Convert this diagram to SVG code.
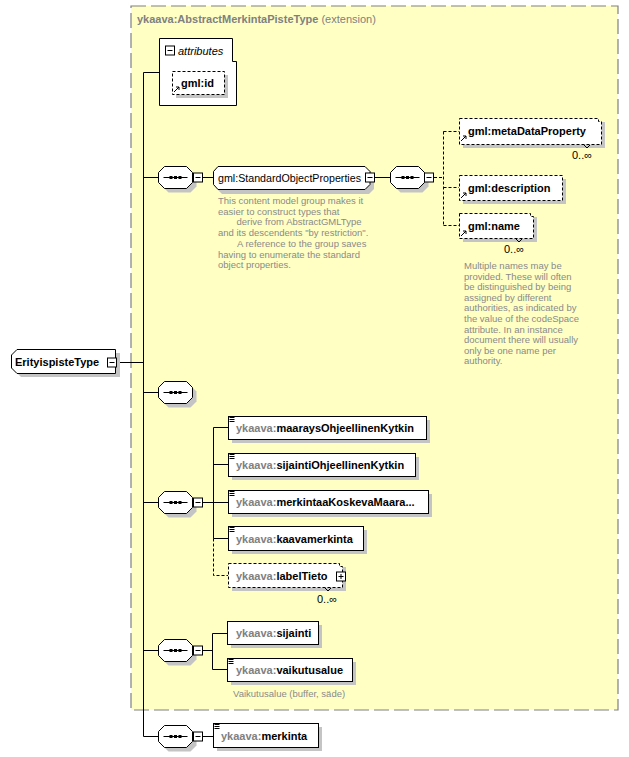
<svg xmlns="http://www.w3.org/2000/svg" xmlns:xlink="http://www.w3.org/1999/xlink" width="629" height="757" viewBox="0 0 629 757">
<style>
text{font-family:"Liberation Sans",Arial,sans-serif}
.lbl{font-size:11px;font-weight:bold;fill:#000}
.pre{fill:#808080}
.nm{font-size:11px;fill:#000}
.doc{font-size:9.5px;fill:#8a8a8a}
.occ{font-size:11px;fill:#000}
.box{fill:#fff;stroke:#000;stroke-width:1}
.dbox{fill:#fff;stroke:#000;stroke-width:1;stroke-dasharray:3,2}
.sh{fill:#c4c4c4}
.ln{stroke:#000;stroke-width:1;fill:none}
.dl{stroke:#000;stroke-width:1;fill:none;stroke-dasharray:3,2}
.ic{stroke:#000;stroke-width:1;fill:none}
</style>
<defs>
<g id="seq">
<path class="sh" d="M10,-7 H32 L38,-1 V9 L32,15 H10 L4,9 V-1 Z"/>
<path class="box" d="M6,-11 H28 L34,-5 V5 L28,11 H6 L0,5 V-5 Z"/>
<path class="ln" d="M5,0 H29"/>
<rect x="11" y="-1.5" width="3" height="3" fill="#000"/>
<rect x="15.5" y="-1.5" width="3" height="3" fill="#000"/>
<rect x="20" y="-1.5" width="3" height="3" fill="#000"/>
</g>
<g id="minus">
<rect class="box" x="0.5" y="-4" width="9" height="9"/>
<path class="ln" d="M2.5,0.5 H7.5"/>
</g>
<g id="plus">
<rect class="box" x="0.5" y="-4" width="9" height="9"/>
<path class="ln" d="M2.5,0.5 H7.5 M5,-2 V3"/>
</g>
<path id="doc3" class="ic" d="M0.5,0.5 H5.5 M0.5,2.5 H5.5 M0.5,4.5 H5.5"/>
<path id="refarrow" class="ic" d="M0,5 L5,0 M2,0 H5 V3"/>
</defs>

<!-- extension box -->
<g id="extension">
<rect x="131" y="6" width="487" height="704" fill="#FFFFC4" stroke="#808080" stroke-width="1.2" stroke-dasharray="15,5"/>
<text x="137" y="23" font-size="11px"><tspan font-weight="bold" fill="#808080">ykaava:AbstractMerkintaPisteType</tspan><tspan fill="#808080"> (extension)</tspan></text>
</g>

<!-- connectors -->
<g id="connectors">
<path class="ln" d="M116,362.5 H143.5 M143.5,72.5 V736.5 M143.5,72.5 H159 M143.5,177.5 H158 M143.5,392.5 H158 M143.5,502.5 H158 M143.5,650.5 H158 M143.5,736.5 H158"/>
<path class="ln" d="M203,177.5 H213 M375,177.5 H390"/>
<path class="dl" d="M434,177.5 H443.5 M443.5,131.5 V225.5 M443.5,131.5 H459 M443.5,187.5 H459 M443.5,225.5 H459"/>
<path class="ln" d="M203,502.5 H213.5 M213.5,427.5 V538.5 M213.5,427.5 H228 M213.5,464.5 H228 M213.5,502.5 H228 M213.5,538.5 H228"/>
<path class="dl" d="M213.5,538.5 V575.5 H228"/>
<path class="ln" d="M203,650.5 H212.5 M212.5,633.5 V669.5 M212.5,633.5 H227 M212.5,669.5 H227"/>
<path class="ln" d="M203,736.5 H213"/>
</g>

<!-- root -->
<g id="root">
<path class="sh" d="M21,353 H120 V377 H21 L15,371 V359 Z"/>
<path class="box" d="M17,349.5 H115.5 V373.5 H17 L11.5,368 V355 Z"/>
<text class="lbl" x="15" y="366">ErityispisteType</text>
<use xlink:href="#minus" x="107" y="362"/>
</g>

<!-- attributes -->
<g id="attributes">
<path class="box" d="M159.5,38.5 H232.5 V61.5 H236.5 V105.5 H159.5 Z"/>
<use xlink:href="#minus" x="165" y="50"/>
<text x="178" y="55" font-size="11px" font-style="italic" fill="#000">attributes</text>
</g>
<g id="gml-id">
<rect class="sh" x="176" y="75" width="52" height="23"/>
<rect class="dbox" x="172.5" y="71.5" width="52" height="23"/>
<text class="lbl" x="181" y="87">gml:id</text>
<use xlink:href="#refarrow" x="174" y="87"/>
</g>

<!-- sequence 1 -->
<g id="seq1">
<use xlink:href="#seq" x="158.5" y="177.5"/>
<use xlink:href="#minus" x="193" y="177"/>
</g>

<!-- StandardObjectProperties -->
<g id="standardObjectProperties">
<path class="sh" d="M222,170 H369 L374,175 V189 L369,194 H222 L217,189 V175 Z"/>
<path class="box" d="M218,166.5 H365 L370,171.5 V184.5 L365,189.5 H218 L213.5,184.5 V171.5 Z"/>
<text class="nm" x="218" y="182" textLength="143" lengthAdjust="spacingAndGlyphs">gml:StandardObjectProperties</text>
<use xlink:href="#minus" x="365" y="177"/>
<text class="doc" x="218" y="204">This content model group makes it</text>
<text class="doc" x="218" y="214.7">easier to construct types that</text>
<text class="doc" x="236.5" y="225.4">derive from AbstractGMLType</text>
<text class="doc" x="218" y="236.1">and its descendents "by restriction".</text>
<text class="doc" x="237" y="246.8">A reference to the group saves</text>
<text class="doc" x="218" y="257.5">having to enumerate the standard</text>
<text class="doc" x="218" y="268.2">object properties.</text>
</g>

<!-- sequence 2 -->
<g id="seq2">
<use xlink:href="#seq" x="390.5" y="177.5"/>
<use xlink:href="#minus" x="424" y="177"/>
</g>

<g id="gml-metaDataProperty">
<rect class="sh" x="463" y="122" width="142" height="26"/>
<path class="dbox" d="M459.5,118.5 H598.5 V121.5 H601.5 V144.5 H459.5 Z"/>
<path class="ic" d="M584,145 L587,148 L590,145"/>
<text class="lbl" x="468" y="135">gml:metaDataProperty</text>
<use xlink:href="#refarrow" x="461" y="136"/>
<text class="occ" x="572" y="159">0..∞</text>
</g>

<g id="gml-description">
<rect class="sh" x="463" y="179" width="103" height="25"/>
<rect class="dbox" x="459.5" y="175.5" width="103" height="25"/>
<text class="lbl" x="468" y="192">gml:description</text>
<use xlink:href="#refarrow" x="461" y="193"/>
</g>

<g id="gml-name">
<rect class="sh" x="463" y="217" width="74" height="25"/>
<path class="dbox" d="M459.5,213.5 H530.5 V216.5 H533.5 V238.5 H459.5 Z"/>
<path class="ic" d="M516,239 L519,242 L522,239"/>
<text class="lbl" x="468" y="230">gml:name</text>
<use xlink:href="#refarrow" x="461" y="231"/>
<text class="occ" x="504" y="253">0..∞</text>
<text class="doc" x="464" y="269">Multiple names may be</text>
<text class="doc" x="464" y="279.6">provided.  These will often</text>
<text class="doc" x="464" y="290.2">be distinguished by being</text>
<text class="doc" x="464" y="300.8">assigned by different</text>
<text class="doc" x="464" y="311.4">authorities, as indicated by</text>
<text class="doc" x="464" y="322">the value of the codeSpace</text>
<text class="doc" x="464" y="332.6">attribute.  In an instance</text>
<text class="doc" x="464" y="343.2">document there will usually</text>
<text class="doc" x="464" y="353.8">only be one name per</text>
<text class="doc" x="464" y="364.4">authority.</text>
</g>

<!-- sequence 3 (empty) -->
<g id="seq3">
<use xlink:href="#seq" x="158.5" y="392.5"/>
</g>

<!-- sequence 4 -->
<g id="seq4">
<use xlink:href="#seq" x="158.5" y="502.5"/>
<use xlink:href="#minus" x="193" y="502"/>
</g>

<g id="maaraysOhjeellinenKytkin">
<rect class="sh" x="232" y="420" width="198" height="23"/>
<rect class="box" x="228.5" y="416.5" width="198" height="23"/>
<use xlink:href="#doc3" x="229" y="417"/>
<text class="lbl" x="236" y="432"><tspan class="pre">ykaava:</tspan>maaraysOhjeellinenKytkin</text>
</g>

<g id="sijaintiOhjeellinenKytkin">
<rect class="sh" x="232" y="457" width="187" height="23"/>
<rect class="box" x="228.5" y="453.5" width="187" height="23"/>
<use xlink:href="#doc3" x="229" y="454"/>
<text class="lbl" x="236" y="469"><tspan class="pre">ykaava:</tspan>sijaintiOhjeellinenKytkin</text>
</g>

<g id="merkintaaKoskevaMaara">
<rect class="sh" x="232" y="494" width="200" height="23"/>
<rect class="box" x="228.5" y="490.5" width="200" height="23"/>
<use xlink:href="#doc3" x="229" y="491"/>
<text class="lbl" x="236" y="506"><tspan class="pre">ykaava:</tspan>merkintaaKoskevaMaara...</text>
</g>

<g id="kaavamerkinta">
<rect class="sh" x="232" y="530" width="135" height="24"/>
<rect class="box" x="228.5" y="526.5" width="135" height="24"/>
<use xlink:href="#doc3" x="229" y="527"/>
<text class="lbl" x="236" y="543"><tspan class="pre">ykaava:</tspan>kaavamerkinta</text>
</g>

<g id="labelTieto">
<rect class="sh" x="232" y="567" width="114" height="24"/>
<path class="dbox" d="M228.5,563.5 H339.5 V566.5 H342.5 V587.5 H228.5 Z"/>
<path class="ic" d="M325,588 L328,591 L331,588"/>
<text class="lbl" x="236" y="580"><tspan class="pre">ykaava:</tspan>labelTieto</text>
<use xlink:href="#plus" x="336" y="576"/>
<text class="occ" x="317" y="603">0..∞</text>
</g>

<!-- sequence 5 -->
<g id="seq5">
<use xlink:href="#seq" x="158.5" y="650.5"/>
<use xlink:href="#minus" x="193" y="650"/>
</g>

<g id="sijainti">
<rect class="sh" x="231" y="625" width="91" height="23"/>
<rect class="box" x="227.5" y="621.5" width="91" height="23"/>
<text class="lbl" x="236" y="637"><tspan class="pre">ykaava:</tspan>sijainti</text>
</g>

<g id="vaikutusalue">
<rect class="sh" x="231" y="662" width="125" height="23"/>
<rect class="box" x="227.5" y="658.5" width="125" height="23"/>
<use xlink:href="#doc3" x="228" y="659"/>
<text class="lbl" x="236" y="674"><tspan class="pre">ykaava:</tspan>vaikutusalue</text>
<text class="doc" x="233" y="697">Vaikutusalue (buffer, säde)</text>
</g>

<!-- sequence 6 -->
<g id="seq6">
<use xlink:href="#seq" x="158.5" y="736.5"/>
<use xlink:href="#minus" x="193" y="736"/>
</g>

<g id="merkinta">
<rect class="sh" x="217" y="727" width="105" height="24"/>
<rect class="box" x="213.5" y="723.5" width="105" height="24"/>
<use xlink:href="#doc3" x="214" y="724"/>
<text class="lbl" x="221" y="740"><tspan class="pre">ykaava:</tspan>merkinta</text>
</g>
</svg>
